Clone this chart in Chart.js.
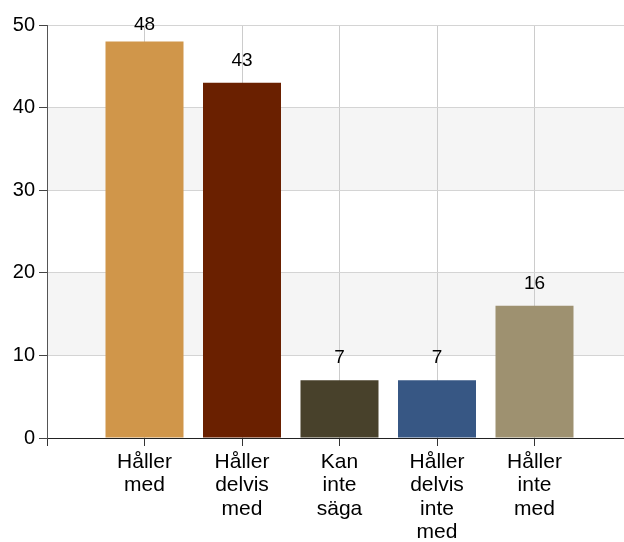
<!DOCTYPE html>
<html>
<head>
<meta charset="utf-8">
<script src="https://cdn.jsdelivr.net/npm/chart.js@4/dist/chart.umd.min.js"></script>
<style>
  html, body { margin: 0; padding: 0; background: #fff; overflow: hidden; }
  #wrap { width: 636px; height: 542px; }
</style>
</head>
<body>
<div id="wrap"><canvas id="chart"></canvas></div>
<script>
// empty slots at both ends keep the grid spacing of the original
const categories = [
  '',
  ['Håller', 'med'],
  ['Håller', 'delvis', 'med'],
  ['Kan', 'inte', 'säga'],
  ['Håller', 'delvis', 'inte', 'med'],
  ['Håller', 'inte', 'med'],
  ''
]
const values = [null, 48, 43, 7, 7, 16, null]
const barColors = ['#fff', '#D0964A', '#6A2000', '#48412B', '#375784', '#9E9170', '#fff']
const yTicks = [0, 10, 20, 30, 40, 50]
const bands = [[10, 20], [30, 40]]

const bandPlugin = {
  id: 'bands',
  beforeDraw(chart) {
    const { ctx, chartArea, scales } = chart
    ctx.save()
    ctx.fillStyle = '#f5f5f5'
    bands.forEach(([a, b]) => {
      const y1 = scales.y.getPixelForValue(b)
      const y2 = scales.y.getPixelForValue(a)
      ctx.fillRect(chartArea.left, y1, chartArea.right - chartArea.left, y2 - y1)
    })
    ctx.restore()
  }
}

const labelPlugin = {
  id: 'valueLabels',
  afterDatasetsDraw(chart) {
    const { ctx, chartArea } = chart
    const meta = chart.getDatasetMeta(0)
    ctx.save()
    ctx.font = '19px "Liberation Sans", Arial, sans-serif'
    ctx.fillStyle = '#000'
    ctx.textAlign = 'center'
    ctx.textBaseline = 'middle'
    meta.data.forEach((bar, i) => {
      if (values[i] == null) return
      // keep the label from running off the top
      const y = Math.max(bar.y - 22, chartArea.top)
      ctx.fillText(String(values[i]), bar.x, y)
    })
    ctx.restore()
  }
}

new Chart(document.getElementById('chart'), {
  type: 'bar',
  data: {
    labels: categories,
    datasets: [{
      data: values,
      backgroundColor: barColors,
      barPercentage: 0.8,
      categoryPercentage: 1
    }]
  },
  options: {
    responsive: true,
    maintainAspectRatio: false,
    animation: false,
    layout: { padding: { top: 25, right: 0, left: 0, bottom: 0 } },
    plugins: { legend: { display: false }, tooltip: { enabled: false } },
    scales: {
      x: {
        offset: false,
        border: { color: '#222', width: 1 },
        grid: { offset: false, color: '#ccc', tickColor: '#333', tickLength: 8 },
        ticks: {
          color: '#000',
          autoSkip: false,
          maxRotation: 0,
          padding: 4,
          font: { family: '"Liberation Sans", Arial, sans-serif', size: 21, lineHeight: 1.12 }
        },
        afterFit(scale) { scale.height = 104 }
      },
      y: {
        min: 0,
        max: 50,
        afterBuildTicks(scale) { scale.ticks = yTicks.map(v => ({ value: v })) },
        border: { color: '#555', width: 1 },
        grid: { color: '#d4d4d4', tickColor: '#444', tickLength: 8 },
        ticks: {
          color: '#000',
          padding: 4,
          font: { family: '"Liberation Sans", Arial, sans-serif', size: 20 }
        },
        afterFit(scale) { scale.width = 47 }
      }
    }
  },
  plugins: [bandPlugin, labelPlugin]
})
</script>
</body>
</html>
